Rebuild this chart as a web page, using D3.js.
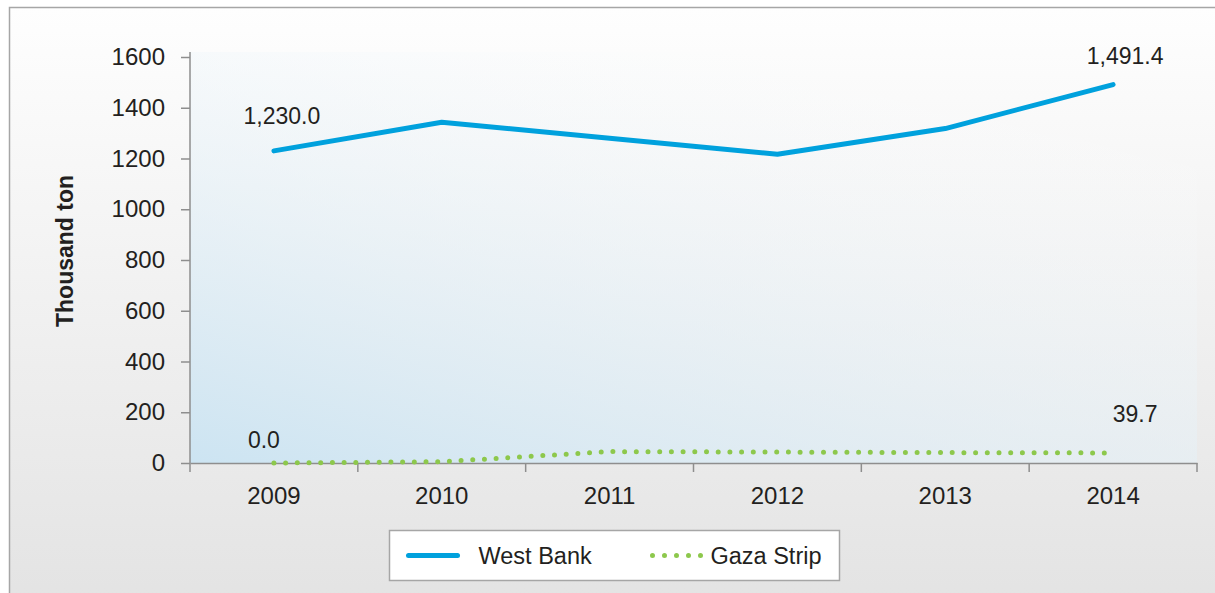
<!DOCTYPE html>
<html>
<head>
<meta charset="utf-8">
<script src="https://cdn.jsdelivr.net/npm/d3@7"></script>
<style>
  body { margin: 0; background: #fff; }
  text { font-family: "Liberation Sans", Arial, sans-serif; fill: #231f20; }
</style>
</head>
<body>
<div id="chart"></div>
<script>
// Data
let years = ["2009", "2010", "2011", "2012", "2013", "2014"];
let westBank = [1230.0, 1343, 1280, 1217, 1318, 1491.4];
let gazaStrip = [0.0, 5, 45, 43, 41, 39.7];
let yTicks = [0, 200, 400, 600, 800, 1000, 1200, 1400, 1600];
// labels shown only at first and last point
let labelIdx = [0, 5];

let svgWidth = 1215;
let svgHeight = 593;

let margin = { top: 57, right: 18, bottom: 130, left: 190 };
let width = svgWidth - margin.left - margin.right;
let height = svgHeight - margin.top - margin.bottom;

let svg = d3.select("#chart")
    .append("svg")
    .attr("width", svgWidth)
    .attr("height", svgHeight);

let defs = svg.append("defs");

// outer background gradient
let bg = defs.append("linearGradient")
    .attr("id", "bgGrad")
    .attr("x1", 0).attr("y1", 0).attr("x2", 0).attr("y2", 1);
bg.append("stop").attr("offset", "0%").attr("stop-color", "#fefefe");
bg.append("stop").attr("offset", "100%").attr("stop-color", "#e3e3e3");

// plot area gradient
let pg = defs.append("linearGradient")
    .attr("id", "plotGrad")
    .attr("x1", 0).attr("y1", 1).attr("x2", 0.75).attr("y2", 0);
pg.append("stop").attr("offset", "0%").attr("stop-color", "#cce4f2").attr("stop-opacity", 1);
pg.append("stop").attr("offset", "100%").attr("stop-color", "#ffffff").attr("stop-opacity", 0);

svg.append("rect")
    .attr("x", 9.5).attr("y", 7.5)
    .attr("width", svgWidth + 10).attr("height", svgHeight + 10)
    .attr("fill", "url(#bgGrad)")
    .attr("stroke", "#a6a6a6")
    .attr("stroke-width", 1.5);

let chartGroup = svg.append("g")
    .attr("transform", `translate(${margin.left}, ${margin.top})`);

// scales
let xScale = d3.scaleBand()
    .domain(years)
    .range([0, width]);

let yScale = d3.scaleLinear()
    .domain([0, 1600])
    .range([height, 0]);

// plot area fill
chartGroup.append("rect")
    .attr("x", 0).attr("y", -5)
    .attr("width", width).attr("height", height + 5)
    .attr("fill", "url(#plotGrad)");

// axes
let bottomAxis = d3.axisBottom(xScale).tickSize(0).tickPadding(24);
let leftAxis = d3.axisLeft(yScale)
    .tickValues(yTicks)
    .tickFormat(d3.format("d"))
    .tickSize(9)
    .tickPadding(16);

let yAxis = chartGroup.append("g").call(leftAxis);
yAxis.select(".domain").remove();
yAxis.append("line")
    .attr("x1", 0).attr("x2", 0)
    .attr("y1", -5).attr("y2", height)
    .attr("stroke", "#8e8e8e").attr("stroke-width", 1.5);
yAxis.selectAll(".tick line").attr("stroke", "#8e8e8e").attr("stroke-width", 1.5);
yAxis.selectAll("text")
    .style("font-size", "24px")
    .style("font-family", "'Liberation Sans', Arial, sans-serif")
    .attr("fill", "#231f20");

let xAxis = chartGroup.append("g")
    .attr("transform", `translate(0, ${height})`)
    .call(bottomAxis);
xAxis.select(".domain").attr("stroke", "#8e8e8e").attr("stroke-width", 1.5);
xAxis.selectAll("text")
    .style("font-size", "24px")
    .style("font-family", "'Liberation Sans', Arial, sans-serif")
    .attr("fill", "#231f20");

// category boundary ticks
let bounds = years.map(d => xScale(d)).concat([width]);
xAxis.selectAll(".bound")
    .data(bounds)
    .join("line")
    .attr("x1", d => d).attr("x2", d => d)
    .attr("y1", 0).attr("y2", 9)
    .attr("stroke", "#8e8e8e").attr("stroke-width", 1.5);

// y axis title
svg.append("text")
    .attr("transform", "translate(73, 251) rotate(-90)")
    .attr("text-anchor", "middle")
    .style("font-size", "23px")
    .style("font-weight", "bold")
    .text("Thousand ton");

let cx = d => xScale(d) + xScale.bandwidth() / 2;

let lineGen = d3.line()
    .x((d, i) => cx(years[i]))
    .y(d => yScale(d));

chartGroup.append("path")
    .datum(westBank)
    .attr("d", lineGen)
    .attr("fill", "none")
    .attr("stroke", "#00a1dd")
    .attr("stroke-width", 5)
    .attr("stroke-linecap", "round")
    .attr("stroke-linejoin", "round");

chartGroup.append("path")
    .datum(gazaStrip)
    .attr("d", lineGen)
    .attr("fill", "none")
    .attr("stroke", "#8dc84c")
    .attr("stroke-width", 5)
    .attr("stroke-dasharray", "0 11.7")
    .attr("stroke-linecap", "round");

// data labels
let fmt = d3.format(",.1f");
chartGroup.selectAll(".wbLabel")
    .data(labelIdx)
    .join("text")
    .attr("x", i => cx(years[i]) + (i === 0 ? 8 : 12))
    .attr("y", i => yScale(westBank[i]) - (i === 0 ? 27 : 21))
    .attr("text-anchor", "middle")
    .style("font-size", "23px")
    .text(i => fmt(westBank[i]));

chartGroup.selectAll(".gzLabel")
    .data(labelIdx)
    .join("text")
    .attr("x", i => cx(years[i]) + (i === 0 ? -10 : 22))
    .attr("y", i => yScale(gazaStrip[i]) - (i === 0 ? 15 : 31))
    .attr("text-anchor", "middle")
    .style("font-size", "23px")
    .text(i => fmt(gazaStrip[i]));

// legend
let legend = svg.append("g")
    .attr("transform", "translate(389.5, 530.5)");

legend.append("rect")
    .attr("width", 450).attr("height", 50)
    .attr("fill", "#ffffff")
    .attr("stroke", "#a6a6a6")
    .attr("stroke-width", 1.5);

legend.append("line")
    .attr("x1", 19).attr("x2", 68)
    .attr("y1", 25).attr("y2", 25)
    .attr("stroke", "#00a1dd")
    .attr("stroke-width", 5)
    .attr("stroke-linecap", "round");

legend.append("text")
    .attr("x", 89).attr("y", 33)
    .style("font-size", "23.5px")
    .text("West Bank");

legend.append("line")
    .attr("x1", 263).attr("x2", 313)
    .attr("y1", 25).attr("y2", 25)
    .attr("stroke", "#8dc84c")
    .attr("stroke-width", 5)
    .attr("stroke-dasharray", "0 12")
    .attr("stroke-linecap", "round");

legend.append("text")
    .attr("x", 321).attr("y", 33)
    .style("font-size", "23.5px")
    .text("Gaza Strip");
</script>
</body>
</html>
